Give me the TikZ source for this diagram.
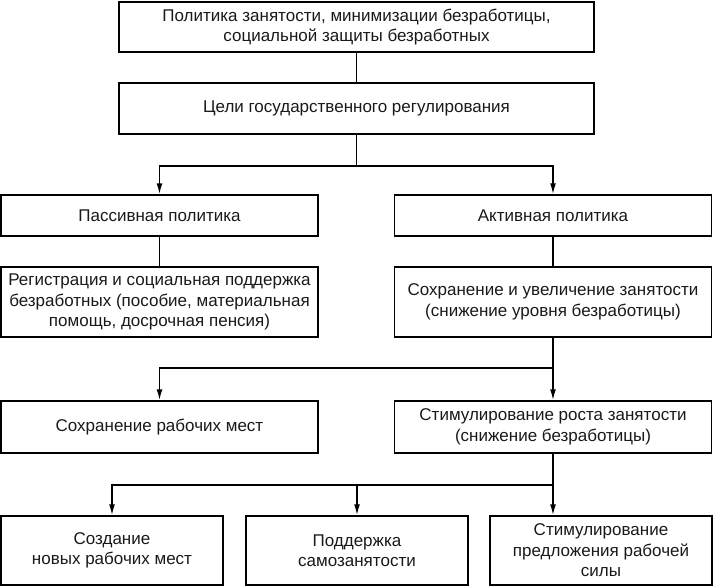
\documentclass[tikz,border=0pt]{standalone}
\usepackage{fontspec}
\setmainfont{Liberation Sans}
\usepackage{tikz}
\usetikzlibrary{arrows.meta}
\usetikzlibrary{calc}
\tikzset{mybox/.style={draw, line width=1.5pt, inner sep=0pt, align=center, text=black!90, font=\fontsize{17}{20.5}\selectfont}}
\tikzset{myboxWide/.style={mybox, minimum width=475pt}}
\tikzset{myboxHalf/.style={mybox, minimum width=317pt}}
\tikzset{myboxThird/.style={mybox, minimum width=222pt}}
\tikzset{myarrow/.style={line width=1.5pt, -{Latex[length=11pt,width=6pt]}}}
\tikzset{myline/.style={line width=1.5pt}}

\begin{document}
\begin{tikzpicture}[x=1pt, y=-1pt]

\useasboundingbox (0,0) rectangle (713,587);

\node[myboxWide, minimum height=50pt] (policy) at (356.5, 27) {Политика занятости, минимизации безработицы,\\социальной защиты безработных};
\node[myboxWide, minimum height=51pt] (goals) at (356.5, 108.5) {Цели государственного регулирования};

\node[myboxHalf, minimum height=41pt] (passive) at (159.5, 215.5) {Пассивная политика};
\node[myboxHalf, minimum height=41pt] (active) at (553, 215.5) {Активная политика};

\node[myboxHalf, minimum height=70pt] (register) at (159.5, 302) {Регистрация и социальная поддержка\\безработных (пособие, материальная\\помощь, досрочная пенсия)};
\node[myboxHalf, minimum height=70pt] (keepEmp) at (553, 302) {Сохранение и увеличение занятости\\(снижение уровня безработицы)};

\node[myboxHalf, minimum height=52pt] (saveJobs) at (159.5, 427) {Сохранение рабочих мест};
\node[myboxHalf, minimum height=52pt] (stimEmp) at (553, 427) {Стимулирование роста занятости\\(снижение безработицы)};

\node[myboxThird, minimum height=69pt] (newJobs) at (112, 550.5) {Создание\\новых рабочих мест};
\node[myboxThird, minimum height=69pt] (selfEmp) at (357, 550.5) {Поддержка\\самозанятости};
\node[myboxThird, minimum height=69pt] (labour) at (601, 550.5) {Стимулирование\\предложения рабочей\\силы};

\coordinate (fork1) at (356.5, 166);
\coordinate (fork2) at (553, 368);
\coordinate (fork3) at (553, 485);

\draw[myline] (policy.south) to (goals.north);
\draw[myline] (goals.south) to (fork1);
\draw[myarrow] (fork1) -| (passive.north);
\draw[myarrow] (fork1) -| (active.north);

\draw[myline] (passive.south) to (register.north);
\draw[myline] (active.south) to (keepEmp.north);

\draw[myline] (keepEmp.south) to (fork2);
\draw[myarrow] (fork2) -| (saveJobs.north);
\draw[myarrow] (fork2) to (stimEmp.north);

\draw[myline] (stimEmp.south) to (fork3);
\draw[myarrow] (fork3) -| (newJobs.north);
\draw[myarrow] (fork3) -| (selfEmp.north);
\draw[myarrow] (fork3) to (fork3 |- labour.north);

\end{tikzpicture}
\end{document}
